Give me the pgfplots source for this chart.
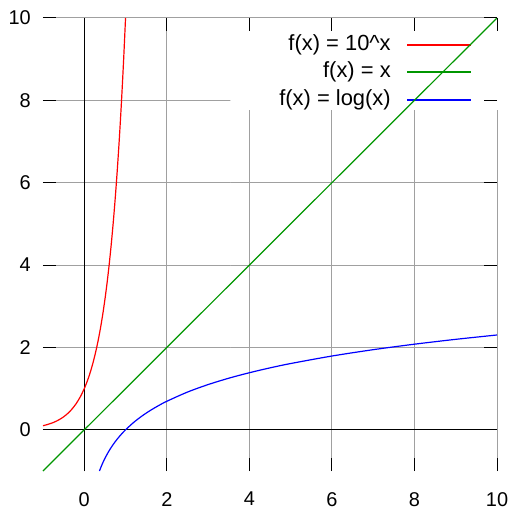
\documentclass[border=0pt]{standalone}
\usepackage{fontspec}
\setmainfont{Liberation Sans}
\usepackage{pgfplots}
\pgfplotsset{compat=1.18}
\definecolor{gpgreen}{RGB}{0,150,0}
\definecolor{gpgrid}{RGB}{160,160,160}
\begin{document}
\begin{tikzpicture}[x=1bp,y=1bp]
\begin{axis}[
  axis on top,
  scale only axis,
  width=454bp, height=453bp,
  xmin=-1, xmax=10, ymin=-1, ymax=10,
  axis line style={draw=none},
  xtick={0,2,4,6,8,10}, ytick={0,2,4,6,8,10},
  tick align=inside,
  major tick length=13bp,
  tick style={black, line width=1bp},
  unbounded coords=jump,
  font=\fontsize{20}{24}\selectfont,
  /pgf/number format/assume math mode=true,
  xticklabel style={inner sep=0pt, anchor=north, yshift=-21bp},
  yticklabel style={inner sep=0pt, anchor=east, xshift=-12bp},
  clip=false,
]
% grid
\addplot[gpgrid, line width=1bp, forget plot] coordinates {
(0,-1) (0,10) (nan,nan) (2,-1) (2,10) (nan,nan) (4,-1) (4,10) (nan,nan)
(6,-1) (6,10) (nan,nan) (8,-1) (8,10) (nan,nan) (10,-1) (10,10) (nan,nan)
(-1,0) (10,0) (nan,nan) (-1,2) (10,2) (nan,nan) (-1,4) (10,4) (nan,nan)
(-1,6) (10,6) (nan,nan) (-1,8) (10,8) (nan,nan) (-1,10) (10,10)};
% legend background
\addplot[draw=none, fill=white, forget plot] coordinates {(3.54,9.68) (10.1,9.68) (10.1,7.77) (3.54,7.77)} \closedcycle;
% legend keys
\addplot[red, line width=1.2bp, forget plot] coordinates {(7.82,9.345) (9.37,9.345)};
\addplot[gpgreen, line width=1.2bp, forget plot] coordinates {(7.82,8.689) (9.37,8.689)};
\addplot[blue, line width=1.2bp, forget plot] coordinates {(7.82,8.01) (9.37,8.01)};
\node[anchor=east, inner sep=0pt, font=\fontsize{22}{26}\selectfont] at (axis cs:7.43,9.345) {f(x) = 10\^{}x};
\node[anchor=east, inner sep=0pt, font=\fontsize{22}{26}\selectfont] at (axis cs:7.43,8.689) {f(x) = x};
\node[anchor=east, inner sep=0pt, font=\fontsize{22}{26}\selectfont] at (axis cs:7.43,8.01) {f(x) = log(x)};
% zero axes
\addplot[black, line width=1.3bp, forget plot] coordinates {(0,-1) (0,10)};
\addplot[black, line width=1.3bp, forget plot] coordinates {(-1,0) (10,0)};
% curves
\addplot[red, line width=1.2bp, smooth, forget plot] coordinates {
(-1,0.1) (-0.9,0.1259) (-0.8,0.1585) (-0.7,0.1995) (-0.6,0.2512) (-0.5,0.3162)
(-0.4,0.3981) (-0.3,0.5012) (-0.2,0.6310) (-0.1,0.7943) (0,1) (0.05,1.1220)
(0.1,1.2589) (0.15,1.4125) (0.2,1.5849) (0.25,1.7783) (0.3,1.9953) (0.35,2.2387)
(0.4,2.5119) (0.45,2.8184) (0.5,3.1623) (0.55,3.5481) (0.6,3.9811) (0.65,4.4668)
(0.7,5.0119) (0.75,5.6234) (0.8,6.3096) (0.85,7.0795) (0.9,7.9433) (0.95,8.9125) (1,10)};
\addplot[gpgreen, line width=1.2bp, forget plot] coordinates {(-1,-1) (10,10)};
\addplot[blue, line width=1.2bp, smooth, forget plot] coordinates {
(0.3679,-1) (0.4,-0.9163) (0.45,-0.7985) (0.5,-0.6931) (0.6,-0.5108) (0.7,-0.3567)
(0.8,-0.2231) (0.9,-0.1054) (1,0) (1.2,0.1823) (1.4,0.3365) (1.6,0.4700)
(1.8,0.5878) (2,0.6931) (2.5,0.9163) (3,1.0986) (3.5,1.2528) (4,1.3863)
(4.5,1.5041) (5,1.6094) (6,1.7918) (7,1.9459) (8,2.0794) (9,2.1972) (10,2.3026)};
\end{axis}
\path[use as bounding box] ([shift={(-43bp,-38bp)}]current axis.south west) rectangle ([shift={(15bp,18bp)}]current axis.north east);
\end{tikzpicture}
\end{document}
